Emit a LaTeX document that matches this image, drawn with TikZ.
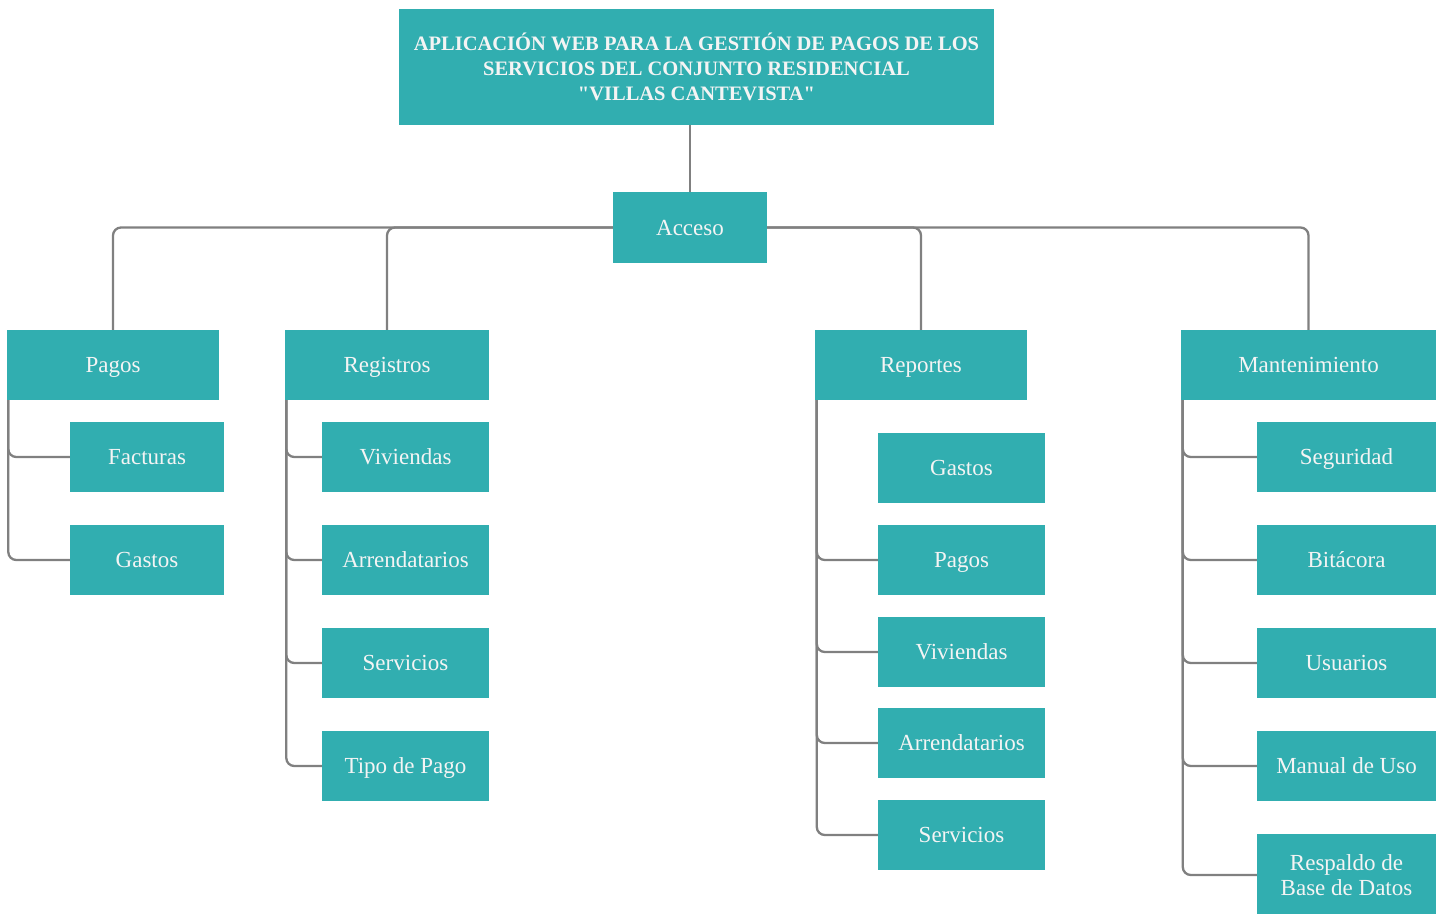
\documentclass[tikz,border=0pt]{standalone}
\usepackage{fontspec}
\setmainfont{Liberation Serif}
\usetikzlibrary{backgrounds}
\definecolor{tealbox}{HTML}{31AEB0}
\definecolor{linkgray}{HTML}{808080}
\definecolor{boxtext}{HTML}{F4F4F4}
\begin{document}
\begin{tikzpicture}[x=1pt,y=-1pt,
  box/.style={fill=tealbox, text=boxtext, inner sep=0pt, align=center,
    font=\fontsize{23}{25}\selectfont},
  onelinebox/.style={box, minimum height=70, text height=17, text depth=1.6},
  link/.style={draw=linkgray, line width=2.3pt, rounded corners=8pt}]
\useasboundingbox (0,0) rectangle (1442,913);
\clip (0,0) rectangle (1442,913);

% root and access
\node[box, minimum width=595, minimum height=116,
  font=\bfseries\fontsize{20.5}{25}\selectfont] (title) at (696.5,67)
  {APLICACIÓN WEB PARA LA GESTIÓN DE PAGOS DE LOS\\SERVICIOS DEL CONJUNTO RESIDENCIAL\\\textquotedbl VILLAS CANTEVISTA\textquotedbl};
\node[onelinebox, minimum width=154, minimum height=71] (acceso) at (690,227.5) {Acceso};

% modules
\node[onelinebox, minimum width=212] (pagos) at (113,365) {Pagos};
\node[onelinebox, minimum width=204] (registros) at (387,365) {Registros};
\node[onelinebox, minimum width=212] (reportes) at (921,365) {Reportes};
\node[onelinebox, minimum width=255] (manten) at (1308.5,365) {Mantenimiento};

% Pagos
\node[onelinebox, minimum width=154] (facturas) at (147,457) {Facturas};
\node[onelinebox, minimum width=154] (gastosA) at (147,560) {Gastos};

% Registros
\node[onelinebox, minimum width=167] (vivR) at (405.5,457) {Viviendas};
\node[onelinebox, minimum width=167] (arrR) at (405.5,560) {Arrendatarios};
\node[onelinebox, minimum width=167] (serR) at (405.5,663) {Servicios};
\node[onelinebox, minimum width=167] (tipR) at (405.5,766) {Tipo de Pago};

% Reportes
\node[onelinebox, minimum width=167] (gasP) at (961.5,468) {Gastos};
\node[onelinebox, minimum width=167] (pagP) at (961.5,560) {Pagos};
\node[onelinebox, minimum width=167] (vivP) at (961.5,652) {Viviendas};
\node[onelinebox, minimum width=167] (arrP) at (961.5,743) {Arrendatarios};
\node[onelinebox, minimum width=167] (serP) at (961.5,835) {Servicios};

% Mantenimiento
\node[onelinebox, minimum width=179] (seg) at (1346.5,457) {Seguridad};
\node[onelinebox, minimum width=179] (bit) at (1346.5,560) {Bitácora};
\node[onelinebox, minimum width=179] (usu) at (1346.5,663) {Usuarios};
\node[onelinebox, minimum width=179] (man) at (1346.5,766) {Manual de Uso};
\node[box, minimum width=179, minimum height=82] (res) at (1346.5,875) {Respaldo de\\Base de Datos};

\begin{scope}[on background layer]
  \draw[link] (title.south -| acceso.north) -- (acceso.north);
  \draw[link] (acceso.west) -| (pagos.north);
  \draw[link] (acceso.west) -| (registros.north);
  \draw[link] (acceso.east) -| (reportes.north);
  \draw[link] (acceso.east) -| (manten.north);

  \foreach \c in {facturas,gastosA}
    \draw[link] ([xshift=1.5]pagos.south west) |- (\c.west);
  \foreach \c in {vivR,arrR,serR,tipR}
    \draw[link] ([xshift=1.5]registros.south west) |- (\c.west);
  \foreach \c in {pagP,vivP,arrP,serP}
    \draw[link] ([xshift=2]reportes.south west) |- (\c.west);
  \foreach \c in {seg,bit,usu,man,res}
    \draw[link] ([xshift=2]manten.south west) |- (\c.west);
\end{scope}
\end{tikzpicture}
\end{document}
